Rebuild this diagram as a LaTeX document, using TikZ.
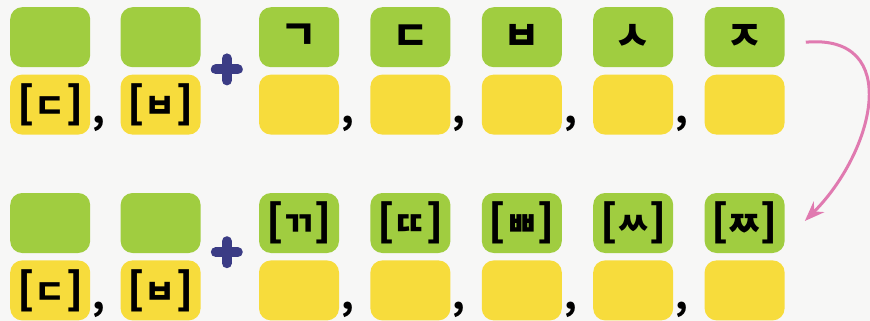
\documentclass[tikz,border=0pt]{standalone}
\usepackage{fontspec}
\newfontfamily\kr{Noto Sans CJK KR}
\usetikzlibrary{arrows.meta, positioning, calc}

\definecolor{leaf}{HTML}{A0CD40}
\definecolor{lemon}{HTML}{F7DC3C}
\definecolor{navy}{HTML}{3B3C85}
\definecolor{rose}{HTML}{E07AB0}
\definecolor{paper}{HTML}{F7F7F6}

% bracketed sound
\newcommand{\snd}[1]{\makebox[66pt]{{\fontsize{43}{43}\selectfont[}\hfill
  {\fontsize{34}{34}\selectfont#1}\hfill{\fontsize{43}{43}\selectfont]}}}

\begin{document}
\begin{tikzpicture}[
    >=Stealth,
    box/.style={rounded corners=12pt, minimum width=80pt,
                minimum height=60pt, inner sep=0pt,
                font=\kr\bfseries\fontsize{40}{40}\selectfont},
    top/.style={box, fill=leaf},
    bot/.style={box, fill=lemon},
    comma/.style={inner sep=0pt, anchor=base west,
                  font=\kr\bfseries\fontsize{36}{36}\selectfont},
    plus/.style={navy, line width=10pt, line cap=round}
  ]
  \fill[paper] (0,0) rectangle (870pt,-321pt);
  \useasboundingbox (0,0) rectangle (870pt,-321pt);

  % first line
  \node[top, anchor=north west] (g1) at (10pt,-7pt) {};
  \node[top, right=30pt of g1] (g2) {};
  \node[top, right=58pt of g2] (g3) {ㄱ};
  \node[top, right=31pt of g3] (g4) {ㄷ};
  \node[top, right=31pt of g4] (g5) {ㅂ};
  \node[top, right=31pt of g5] (g6) {ㅅ};
  \node[top, right=31pt of g6] (g7) {ㅈ};

  \node[bot, below=7pt of g1] (y1) {\snd{ㄷ}};
  \node[bot, below=7pt of g2] (y2) {\snd{ㅂ}};
  \node[bot, below=7pt of g3] (y3) {};
  \node[bot, below=7pt of g4] (y4) {};
  \node[bot, below=7pt of g5] (y5) {};
  \node[bot, below=7pt of g6] (y6) {};
  \node[bot, below=7pt of g7] (y7) {};

  % second line
  \node[top, below=58pt of y1] (gg1) {};
  \node[top, below=58pt of y2] (gg2) {};
  \node[top, below=58pt of y3] (gg3) {\snd{ㄲ}};
  \node[top, below=58pt of y4] (gg4) {\snd{ㄸ}};
  \node[top, below=58pt of y5] (gg5) {\snd{ㅃ}};
  \node[top, below=58pt of y6] (gg6) {\snd{ㅆ}};
  \node[top, below=58pt of y7] (gg7) {\snd{ㅉ}};

  \node[bot, below=7pt of gg1] (yy1) {\snd{ㄷ}};
  \node[bot, below=7pt of gg2] (yy2) {\snd{ㅂ}};
  \node[bot, below=7pt of gg3] (yy3) {};
  \node[bot, below=7pt of gg4] (yy4) {};
  \node[bot, below=7pt of gg5] (yy5) {};
  \node[bot, below=7pt of gg6] (yy6) {};
  \node[bot, below=7pt of gg7] (yy7) {};

  % commas
  \node[comma] at ([xshift=2pt, yshift=-19pt]y1.east) {,};
  \node[comma] at ([xshift=2pt, yshift=-19pt]y3.east) {,};
  \node[comma] at ([xshift=2pt, yshift=-19pt]y4.east) {,};
  \node[comma] at ([xshift=2pt, yshift=-19pt]y5.east) {,};
  \node[comma] at ([xshift=2pt, yshift=-19pt]y6.east) {,};
  \node[comma] at ([xshift=2pt, yshift=-19pt]yy1.east) {,};
  \node[comma] at ([xshift=2pt, yshift=-19pt]yy3.east) {,};
  \node[comma] at ([xshift=2pt, yshift=-19pt]yy4.east) {,};
  \node[comma] at ([xshift=2pt, yshift=-19pt]yy5.east) {,};
  \node[comma] at ([xshift=2pt, yshift=-19pt]yy6.east) {,};

  % plus signs
  \coordinate (p1) at ($(g2.south east)!0.5!(g3.south west)+(-3pt,-2pt)$);
  \coordinate (p2) at ($(gg2.south east)!0.5!(gg3.south west)+(-3pt,1pt)$);
  \draw[plus] ([xshift=-11pt]p1) -- ([xshift=11pt]p1)
              ([yshift=-11pt]p1) -- ([yshift=11pt]p1);
  \draw[plus] ([xshift=-11pt]p2) -- ([xshift=11pt]p2)
              ([yshift=-11pt]p2) -- ([yshift=11pt]p2);

  \draw[-{Stealth[length=20pt, width=15pt]}, rose, line width=3pt]
    ([xshift=21pt, yshift=-5pt]g7.east)
    to[out=5, in=45, looseness=1.4] ([xshift=20pt, yshift=2pt]gg7.east);
\end{tikzpicture}
\end{document}
